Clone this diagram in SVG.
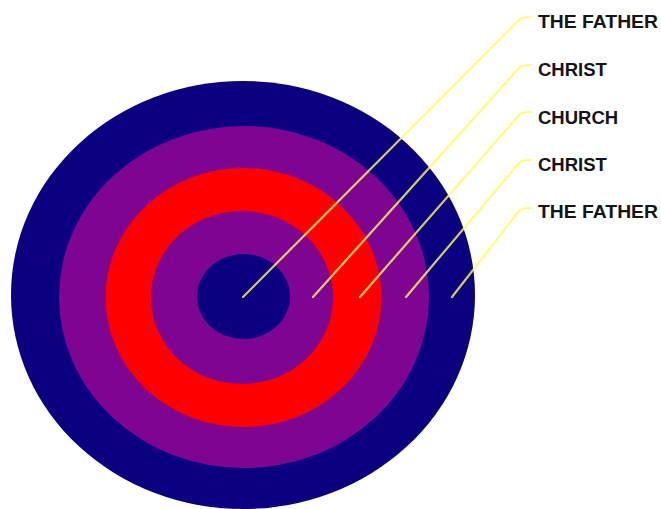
<svg xmlns="http://www.w3.org/2000/svg" width="661" height="509" viewBox="0 0 661 509">
<style>
.blue{fill:#0a0080}
.purple{fill:#7d0592}
.red{fill:#ff0000}
.conn path{fill:none;stroke:#ffff55;stroke-opacity:0.8;stroke-width:2.2;stroke-linecap:round}
.lbl{font-family:"Liberation Sans",Arial,sans-serif;font-weight:bold;font-size:18.5px;fill:#151515}
</style>
<rect width="661" height="509" fill="#ffffff"/>
<g id="ring-outer-father"><ellipse class="blue" cx="243" cy="295" rx="232" ry="214"/></g>
<g id="ring-christ-outer"><ellipse class="purple" cx="244" cy="297" rx="185" ry="171"/></g>
<g id="ring-church"><ellipse class="red" cx="243.5" cy="297.5" rx="138" ry="129.5"/></g>
<g id="ring-christ-inner"><ellipse class="purple" cx="242" cy="297.5" rx="91" ry="86.5"/></g>
<g id="core-father"><ellipse class="blue" cx="243.5" cy="296.5" rx="46.5" ry="42.5"/></g>
<g id="connectors" class="conn">
<path d="M243,297 L519,20 Q522,17 531,17"/>
<path d="M313,297 L519,68 Q522,65 531,65"/>
<path d="M360,297 L519,115 Q522,112 531,112"/>
<path d="M406,297 L519,163 Q522,160 531,160"/>
<path d="M452,297 L519,211 Q522,208 531,208"/>
</g>
<g id="label-1"><text class="lbl" x="538" y="28" textLength="120" lengthAdjust="spacingAndGlyphs">THE FATHER</text></g>
<g id="label-2"><text class="lbl" x="538" y="76">CHRIST</text></g>
<g id="label-3"><text class="lbl" x="538" y="124">CHURCH</text></g>
<g id="label-4"><text class="lbl" x="538" y="171">CHRIST</text></g>
<g id="label-5"><text class="lbl" x="538" y="218" textLength="120" lengthAdjust="spacingAndGlyphs">THE FATHER</text></g>
</svg>
